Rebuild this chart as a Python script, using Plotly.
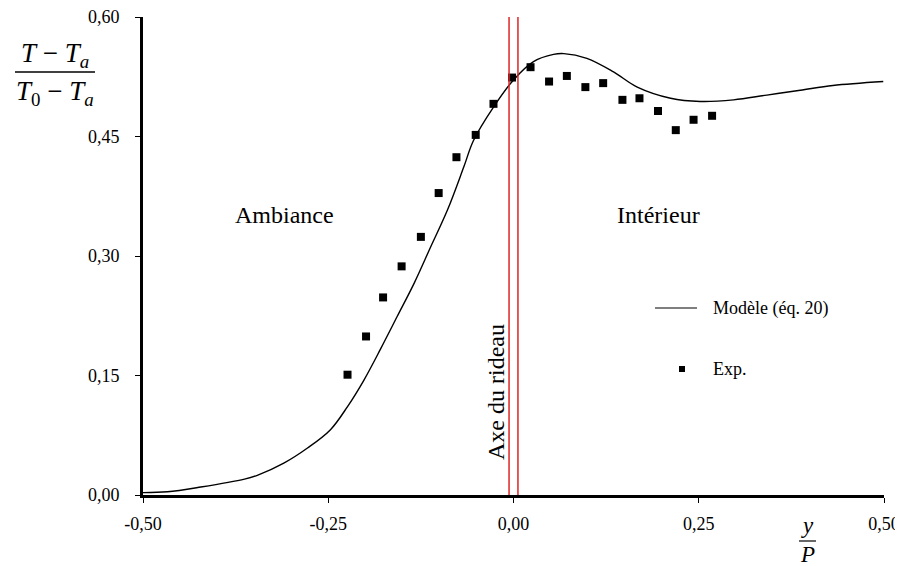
#! /usr/bin/env python3

import plotly.graph_objects as go

# model curve (eq. 20)
model_x = [-0.500, -0.467, -0.422, -0.363, -0.345, -0.310, -0.278, -0.247, -0.224, -0.202,
           -0.179, -0.157, -0.134, -0.112, -0.089, -0.067, -0.054, -0.027, 0.000, 0.027,
           0.054, 0.068, 0.099, 0.135, 0.167, 0.212, 0.252, 0.297, 0.342, 0.387,
           0.431, 0.499]
model_y = [0.003, 0.004, 0.010, 0.020, 0.025, 0.040, 0.059, 0.082, 0.111, 0.144,
           0.184, 0.224, 0.266, 0.311, 0.358, 0.412, 0.445, 0.487, 0.521, 0.544,
           0.553, 0.554, 0.548, 0.531, 0.512, 0.498, 0.494, 0.496, 0.502, 0.508,
           0.514, 0.519]

# experimental points
exp_x = [-0.224, -0.199, -0.176, -0.151, -0.125, -0.101, -0.077, -0.051, -0.027, -0.002,
         0.023, 0.048, 0.072, 0.097, 0.121, 0.147, 0.170, 0.195, 0.219, 0.243, 0.268]
exp_y = [0.151, 0.199, 0.248, 0.287, 0.324, 0.379, 0.424, 0.452, 0.491, 0.524,
         0.537, 0.519, 0.526, 0.512, 0.517, 0.496, 0.498, 0.482, 0.458, 0.471, 0.476]

x_ticks = [-0.50, -0.25, 0.00, 0.25, 0.50]
x_ticktext = ["-0,50", "-0,25", "0,00", "0,25", "0,50"]
y_ticks = [0.00, 0.15, 0.30, 0.45, 0.60]
y_ticktext = ["0,00", "0,15", "0,30", "0,45", "0,60"]

axe_x = [-0.006, 0.006]

TICKFONT = dict(family="Liberation Serif", size=18, color="black")
TEXTFONT = dict(family="Liberation Serif", size=24, color="black")


def px(x):
    # screen pixel -> paper (plot area is 143..884 wide, 17..495 high on screen)
    return (x - 143) / 741


def py(y):
    return (495 - y) / 478


def note(fig, x, y, text, font, xanchor="center"):
    fig.add_annotation(x=px(x), y=py(y), xref="paper", yref="paper", text=text,
                       showarrow=False, xanchor=xanchor, yanchor="middle", font=font)


def main():
    fig = go.Figure()
    fig.add_trace(go.Scatter(x=model_x, y=model_y, mode="lines", line_shape="spline",
                             line=dict(color="black", width=1.4), name="Modèle (éq. 20)",
                             showlegend=False))
    fig.add_trace(go.Scatter(x=exp_x, y=exp_y, mode="markers",
                             marker=dict(symbol="square", size=8, color="black"),
                             name="Exp.", showlegend=False))

    # curtain axis
    for xv in axe_x:
        fig.add_shape(type="line", x0=xv, x1=xv, y0=0, y1=0.6035, xref="x", yref="y",
                      line=dict(color="#e02424", width=1.5))

    note(fig, 284, 215, "Ambiance", TEXTFONT)
    note(fig, 658, 215, "Intérieur", TEXTFONT)
    fig.add_annotation(x=px(496), y=py(392), xref="paper", yref="paper", text="Axe du rideau",
                       showarrow=False, textangle=-90, xanchor="center", yanchor="middle",
                       font=TEXTFONT)

    # legend drawn by hand
    legfont = dict(family="Liberation Serif", size=18, color="black")
    fig.add_shape(type="line", x0=px(655), x1=px(697), y0=py(308), y1=py(308),
                  xref="paper", yref="paper", line=dict(color="black", width=1.2))
    note(fig, 711, 308, "Modèle (éq. 20)", legfont, xanchor="left")
    fig.add_shape(type="rect", x0=px(679), x1=px(685), y0=py(372), y1=py(366),
                  xref="paper", yref="paper", fillcolor="black", line=dict(width=0))
    note(fig, 711, 369, "Exp.", legfont, xanchor="left")

    # y label as fraction
    fracfont = dict(family="Liberation Serif", size=27, color="black")
    note(fig, 55, 55, "<i>T</i> − <i>T</i><sub><i>a</i></sub>", fracfont)
    fig.add_shape(type="line", x0=px(15), x1=px(95), y0=py(72), y1=py(72),
                  xref="paper", yref="paper", line=dict(color="black", width=1.3))
    note(fig, 55, 93, "<i>T</i><sub>0</sub> − <i>T</i><sub><i>a</i></sub>", fracfont)

    # x label y/P
    pfont = dict(family="Liberation Serif", size=23, color="black")
    note(fig, 807, 525, "<i>y</i>", pfont)
    fig.add_shape(type="line", x0=px(799), x1=px(816), y0=py(541), y1=py(541),
                  xref="paper", yref="paper", line=dict(color="black", width=1.2))
    note(fig, 807, 554, "<i>P</i>", pfont)

    fig.update_xaxes(range=[-0.5, 0.5], tickvals=x_ticks, ticktext=x_ticktext, showline=True,
                     linecolor="black", linewidth=3, ticks="outside", ticklen=5, tickwidth=1.2,
                     tickcolor="black", showgrid=False, zeroline=False, tickfont=TICKFONT,
                     ticklabelstandoff=5, automargin=False, ticklabeloverflow="allow")
    fig.update_yaxes(range=[0, 0.6], tickvals=y_ticks, ticktext=y_ticktext, showline=True,
                     linecolor="black", linewidth=3, ticks="outside", ticklen=5, tickwidth=1.2,
                     tickcolor="black", showgrid=False, zeroline=False, tickfont=TICKFONT,
                     ticklabelstandoff=12, automargin=False, ticklabeloverflow="allow")
    # page body has an 8px margin, so the figure is offset by 8px on screen
    fig.update_layout(width=895, height=558,
                      margin=dict(l=135, r=19, t=9, b=71, autoexpand=False),
                      plot_bgcolor="white", paper_bgcolor="white")
    # keep scrollbars from eating into the window
    fig.write_html("out.html",
                   post_script="document.documentElement.style.overflow='hidden';"
                               "document.body.style.overflow='hidden';")


if __name__ == "__main__":
    main()
